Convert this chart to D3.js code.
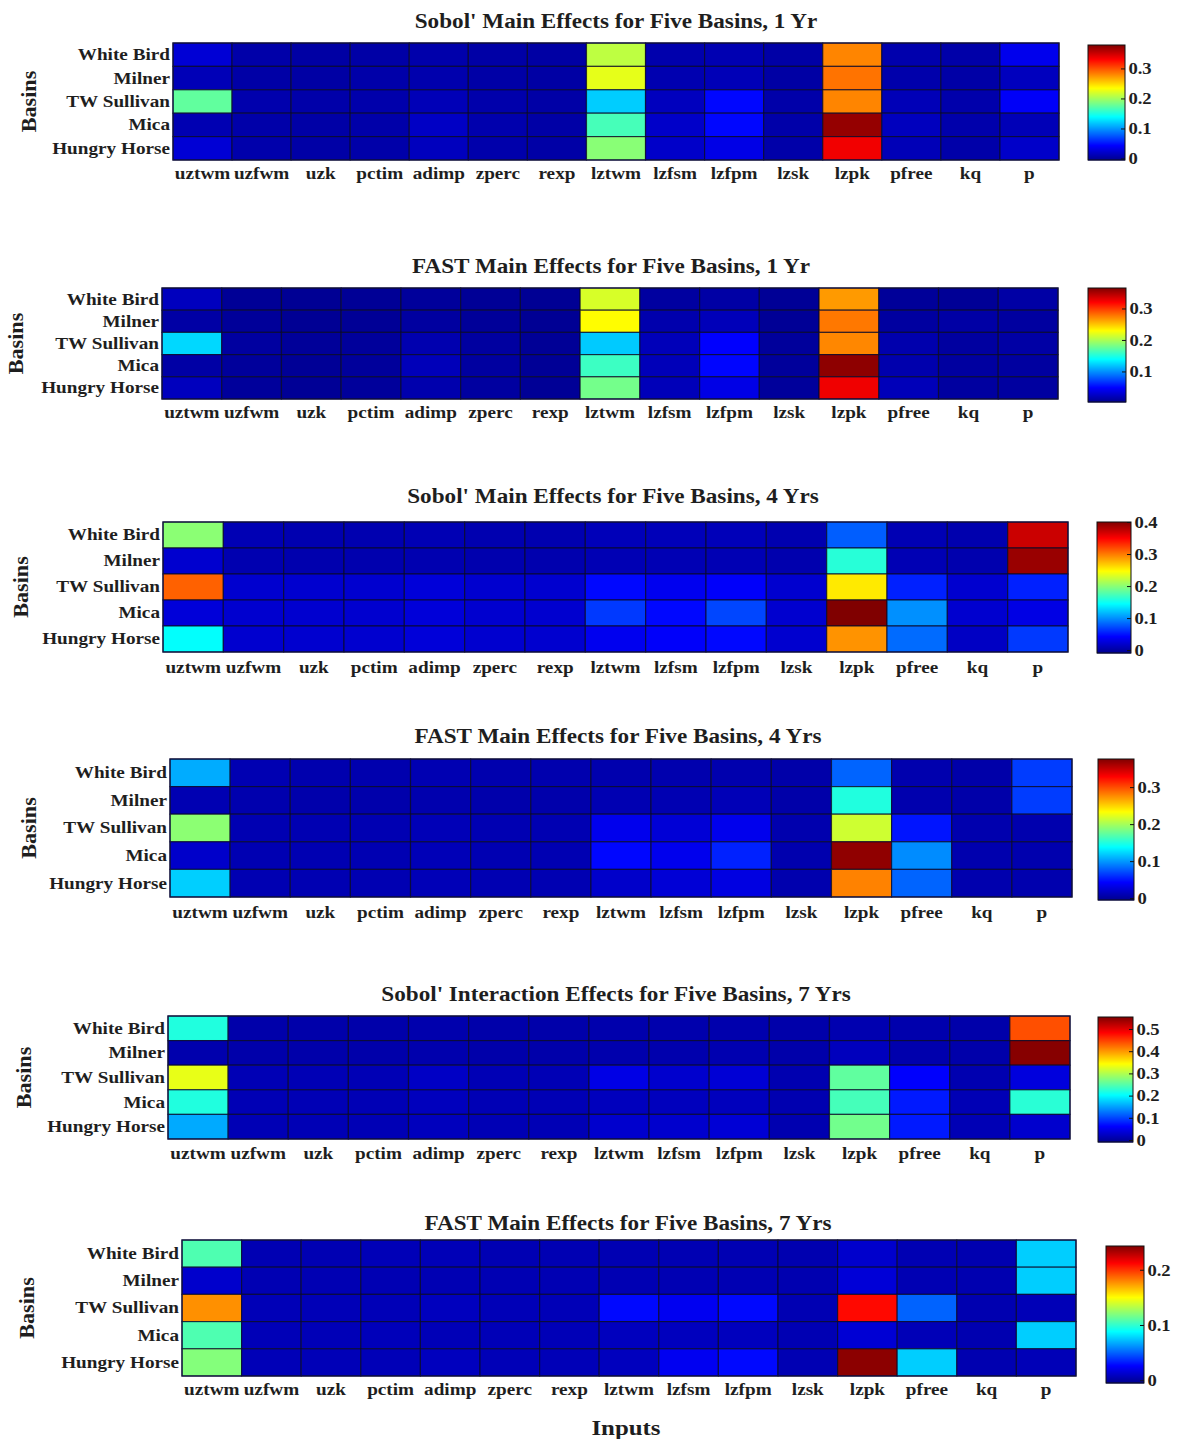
<!DOCTYPE html>
<html>
<head>
<meta charset="utf-8">
<script src="https://cdn.jsdelivr.net/npm/d3@7"></script>
<style>
body { margin: 0; background: #fff; }
text { font-family: "Liberation Serif", "Times New Roman", serif; font-weight: bold; fill: #1e1e1e; }
</style>
</head>
<body>
<svg id="chart"></svg>
<script>

// ---- data ----
const basins = ["White Bird", "Milner", "TW Sullivan", "Mica", "Hungry Horse"]
const inputs = ["uztwm","uzfwm","uzk","pctim","adimp","zperc","rexp","lztwm","lzfsm","lzfpm","lzsk","lzpk","pfree","kq","p"]

const titles = [
    "Sobol' Main Effects for Five Basins, 1 Yr",
    "FAST Main Effects for Five Basins, 1 Yr",
    "Sobol' Main Effects for Five Basins, 4 Yrs",
    "FAST Main Effects for Five Basins, 4 Yrs",
    "Sobol' Interaction Effects for Five Basins, 7 Yrs",
    "FAST Main Effects for Five Basins, 7 Yrs"
]

const sobolMain1 = [
    [0.025,0.006,0.004,0.005,0.007,0.005,0.004,0.21,0.008,0.01,0.005,0.28,0.008,0.006,0.035],
    [0.012,0.005,0.004,0.006,0.008,0.005,0.004,0.225,0.009,0.012,0.004,0.287,0.007,0.005,0.015],
    [0.175,0.008,0.006,0.007,0.012,0.007,0.005,0.12,0.015,0.045,0.006,0.28,0.012,0.007,0.04],
    [0.01,0.006,0.005,0.006,0.018,0.008,0.005,0.165,0.02,0.045,0.006,0.37,0.015,0.007,0.012],
    [0.025,0.007,0.005,0.006,0.015,0.007,0.005,0.19,0.02,0.032,0.006,0.335,0.012,0.006,0.02]
]
const fastMain1 = [
    [0.022,0.006,0.005,0.006,0.008,0.006,0.005,0.215,0.01,0.012,0.006,0.265,0.007,0.006,0.012],
    [0.012,0.007,0.005,0.006,0.01,0.007,0.005,0.23,0.015,0.02,0.006,0.277,0.01,0.012,0.01],
    [0.125,0.01,0.007,0.008,0.016,0.01,0.006,0.12,0.02,0.048,0.008,0.272,0.015,0.01,0.012],
    [0.012,0.008,0.006,0.008,0.02,0.01,0.006,0.16,0.02,0.05,0.008,0.36,0.015,0.01,0.01],
    [0.022,0.008,0.006,0.008,0.015,0.01,0.006,0.18,0.02,0.038,0.008,0.325,0.02,0.01,0.01]
]
const sobolMain4 = [
    [0.2,0.008,0.006,0.006,0.008,0.006,0.006,0.01,0.01,0.01,0.006,0.08,0.008,0.005,0.37],
    [0.02,0.006,0.005,0.005,0.006,0.005,0.005,0.008,0.008,0.008,0.005,0.16,0.008,0.005,0.39],
    [0.31,0.02,0.02,0.02,0.025,0.02,0.02,0.045,0.035,0.04,0.02,0.255,0.055,0.02,0.055],
    [0.025,0.02,0.02,0.02,0.025,0.02,0.02,0.065,0.045,0.07,0.02,0.4,0.1,0.02,0.03],
    [0.145,0.02,0.02,0.02,0.025,0.02,0.02,0.035,0.04,0.045,0.02,0.29,0.085,0.015,0.065]
]
const fastMain4 = [
    [0.107,0.01,0.008,0.008,0.01,0.008,0.008,0.008,0.008,0.008,0.006,0.08,0.008,0.006,0.065],
    [0.01,0.008,0.007,0.007,0.008,0.007,0.007,0.01,0.01,0.012,0.006,0.15,0.008,0.006,0.065],
    [0.19,0.01,0.01,0.01,0.012,0.01,0.01,0.035,0.025,0.035,0.008,0.215,0.05,0.008,0.008],
    [0.02,0.01,0.01,0.01,0.012,0.01,0.01,0.045,0.035,0.055,0.008,0.37,0.095,0.008,0.008],
    [0.12,0.01,0.01,0.01,0.012,0.01,0.01,0.02,0.025,0.03,0.008,0.28,0.08,0.008,0.008]
]
const sobolInter7 = [
    [0.22,0.008,0.008,0.008,0.01,0.008,0.008,0.01,0.01,0.01,0.008,0.012,0.01,0.008,0.44],
    [0.01,0.008,0.008,0.008,0.01,0.008,0.008,0.01,0.01,0.012,0.008,0.02,0.01,0.008,0.55],
    [0.33,0.015,0.015,0.015,0.025,0.015,0.015,0.045,0.03,0.035,0.012,0.255,0.06,0.012,0.04],
    [0.22,0.015,0.015,0.015,0.02,0.015,0.015,0.02,0.02,0.02,0.012,0.24,0.075,0.015,0.225],
    [0.155,0.015,0.015,0.015,0.02,0.015,0.015,0.03,0.03,0.035,0.012,0.265,0.075,0.015,0.03]
]
const fastMain7 = [
    [0.107,0.005,0.005,0.006,0.006,0.005,0.005,0.005,0.005,0.005,0.004,0.012,0.005,0.004,0.076],
    [0.012,0.005,0.005,0.005,0.005,0.005,0.005,0.005,0.005,0.005,0.004,0.015,0.005,0.004,0.076],
    [0.177,0.006,0.006,0.006,0.008,0.006,0.006,0.028,0.022,0.028,0.005,0.21,0.05,0.004,0.006],
    [0.107,0.006,0.006,0.007,0.006,0.006,0.006,0.008,0.008,0.008,0.005,0.014,0.006,0.004,0.076],
    [0.12,0.006,0.006,0.006,0.008,0.006,0.006,0.008,0.022,0.028,0.005,0.24,0.076,0.004,0.006]
]

// colour limits of each panel (what the colorbar spans) and its tick labels
const climMin = [-0.005, 0.003, -0.009, -0.005, -0.009, -0.005]
const climMax = [0.378, 0.365, 0.4, 0.376, 0.554, 0.243]
const cbarTicks = [
    [0, 0.1, 0.2, 0.3],
    [0.1, 0.2, 0.3],
    [0, 0.1, 0.2, 0.3, 0.4],
    [0, 0.1, 0.2, 0.3],
    [0, 0.1, 0.2, 0.3, 0.4, 0.5],
    [0, 0.1, 0.2]
]

const panelValues = [sobolMain1, fastMain1, sobolMain4, fastMain4, sobolInter7, fastMain7]

const layout = [
    {x0:173, x1:1059, y0:43,   y1:160,  cx0:1088, cx1:1125, cy0:45,   cy1:160,  ty:28,   tx:616, ly:182,  bx:36},
    {x0:162, x1:1058, y0:288,  y1:399,  cx0:1088, cx1:1126, cy0:288,  cy1:402,  ty:273,  tx:611, ly:421,  bx:23},
    {x0:163, x1:1068, y0:522,  y1:652,  cx0:1097, cx1:1131, cy0:522,  cy1:653,  ty:503,  tx:613, ly:676,  bx:28},
    {x0:170, x1:1072, y0:759,  y1:897,  cx0:1098, cx1:1134, cy0:759,  cy1:900,  ty:743,  tx:618, ly:921,  bx:36},
    {x0:168, x1:1070, y0:1016, y1:1139, cx0:1098, cx1:1133, cy0:1017, cy1:1142, ty:1001, tx:616, ly:1162, bx:31},
    {x0:182, x1:1076, y0:1240, y1:1376, cx0:1106, cx1:1144, cy0:1246, cy1:1383, ty:1230, tx:628, ly:1398, bx:34}
]

// the figure's lettering is a little wider than the serif font
const stretch = 1.13

// MATLAB style jet colormap
const jet = d3.scaleLinear()
    .domain([0, 0.125, 0.375, 0.625, 0.875, 1])
    .range(["#00008f", "#0000ff", "#00ffff", "#ffff00", "#ff0000", "#800000"])
    .clamp(true)

const W = 1177, H = 1439
const svg = d3.select("#chart").attr("width", W).attr("height", H)

function widen(sel) {
    sel.attr("transform", `scale(${stretch},1)`)
}

function drawPanel(k) {
    const L = layout[k]
    const vals = panelValues[k]
    const lo = climMin[k], hi = climMax[k]
    const color = v => jet((v - lo) / (hi - lo))

    const x = d3.scaleBand().domain(inputs).range([L.x0, L.x1])
    const y = d3.scaleBand().domain(basins).range([L.y0, L.y1])

    const g = svg.append("g")

    const cells = []
    vals.forEach((row, i) => row.forEach((v, j) => cells.push({b: basins[i], inp: inputs[j], v: v})))

    g.selectAll("rect.cell")
        .data(cells)
        .enter()
        .append("rect")
        .attr("class", "cell")
        .attr("x", d => x(d.inp))
        .attr("y", d => y(d.b))
        .attr("width", x.bandwidth())
        .attr("height", y.bandwidth())
        .attr("fill", d => color(d.v))
        .attr("stroke", "#0a0a28")
        .attr("stroke-opacity", 0.75)
        .attr("stroke-width", 1.2)

    g.append("rect")
        .attr("x", L.x0).attr("y", L.y0)
        .attr("width", L.x1 - L.x0).attr("height", L.y1 - L.y0)
        .attr("fill", "none")
        .attr("stroke", "#101040")
        .attr("stroke-width", 1.2)

    // axes
    const xAxis = g.append("g")
        .attr("transform", `translate(0,${L.ly - 15})`)
        .call(d3.axisBottom(x).tickSize(0).tickPadding(0))
    xAxis.select(".domain").remove()
    xAxis.selectAll("text").attr("font-size", 17).attr("dy", "0.71em")
        .attr("font-family", null).call(widen)

    const yAxis = g.append("g")
        .attr("transform", `translate(${L.x0 - 3},0)`)
        .call(d3.axisLeft(y).tickSize(0).tickPadding(0))
    yAxis.select(".domain").remove()
    yAxis.selectAll("text").attr("font-size", 17).attr("font-family", null).call(widen)

    // title
    g.append("text")
        .attr("transform", `translate(${L.tx},${L.ty}) scale(${stretch},1)`)
        .attr("text-anchor", "middle")
        .attr("font-size", 20.5)
        .text(titles[k])

    // Basins label
    g.append("text")
        .attr("transform", `translate(${L.bx},${(L.y0 + L.y1) / 2}) rotate(-90) scale(1.08,1)`)
        .attr("text-anchor", "middle")
        .attr("font-size", 20.5)
        .text("Basins")

    // colorbar
    const cy = d3.scaleLinear().domain([lo, hi]).range([L.cy1, L.cy0])
    const steps = d3.range(L.cy0, L.cy1, 1)
    g.selectAll("rect.cb")
        .data(steps)
        .enter()
        .append("rect")
        .attr("class", "cb")
        .attr("x", L.cx0)
        .attr("y", d => d)
        .attr("width", L.cx1 - L.cx0)
        .attr("height", 1.5)
        .attr("fill", d => color(cy.invert(d + 0.5)))

    g.append("rect")
        .attr("x", L.cx0).attr("y", L.cy0)
        .attr("width", L.cx1 - L.cx0).attr("height", L.cy1 - L.cy0)
        .attr("fill", "none").attr("stroke", "#111").attr("stroke-width", 1)

    const cAxis = g.append("g")
        .attr("transform", `translate(${L.cx1},0)`)
        .call(d3.axisRight(cy).tickValues(cbarTicks[k]).tickSize(-4).tickPadding(3).tickFormat(d3.format(".1~f")))
    cAxis.select(".domain").remove()
    cAxis.selectAll("line").attr("stroke", "#111")
    cAxis.selectAll("text").attr("font-size", 16.5).attr("font-family", null).call(widen)
}

for (let k = 0; k < layout.length; k++) drawPanel(k)

svg.append("text")
    .attr("transform", `translate(626,1435) scale(${stretch},1)`)
    .attr("text-anchor", "middle")
    .attr("font-size", 22)
    .text("Inputs")

</script>
</body>
</html>
